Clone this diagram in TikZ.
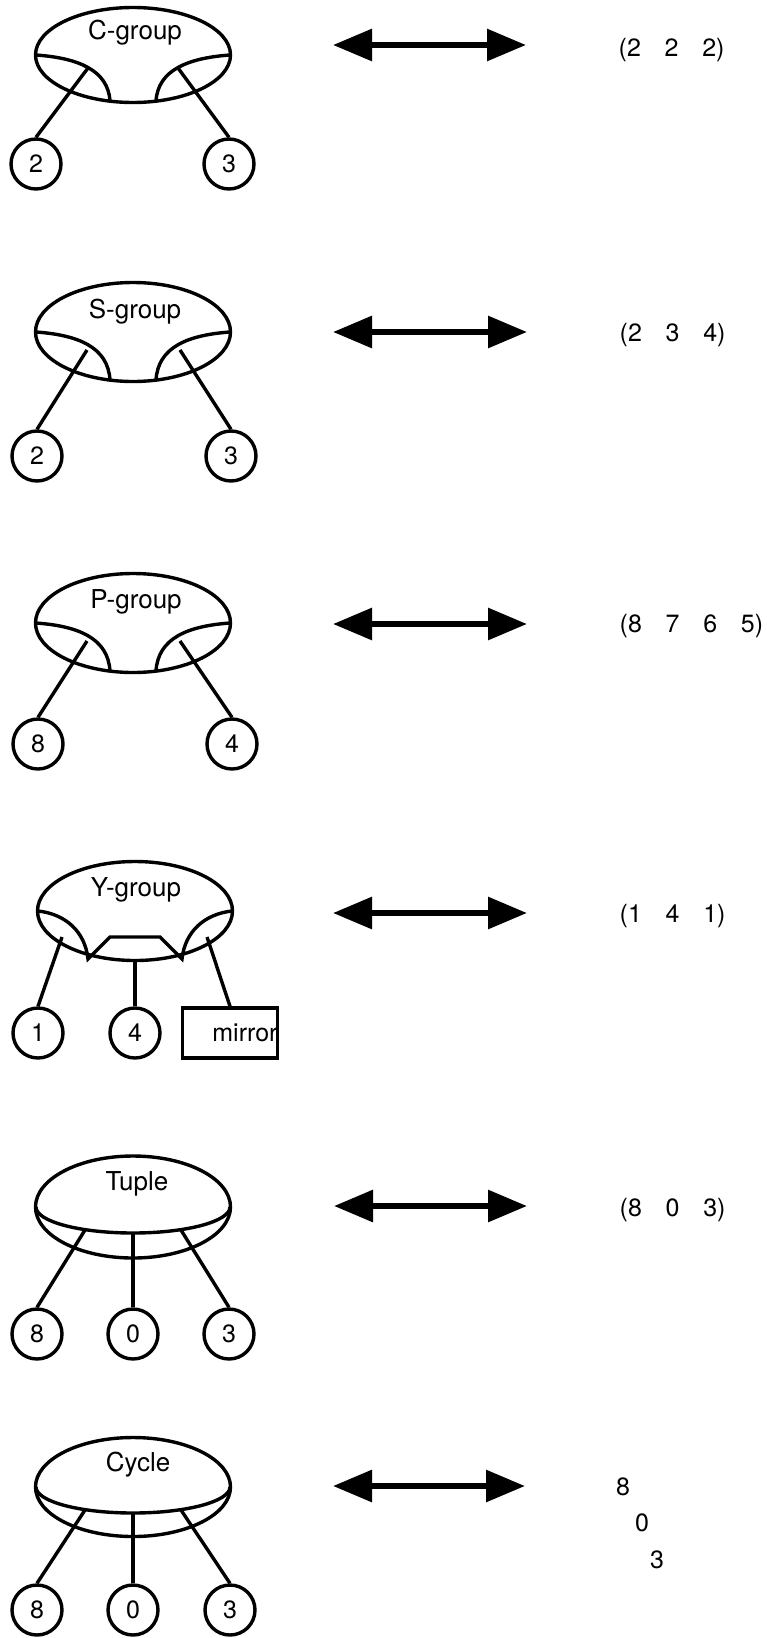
\documentclass[tikz,border=0pt]{standalone}
\usepackage{fontspec}
\setmainfont{TeX Gyre Heros}
\usepackage{tikz}
\usetikzlibrary{shapes.geometric,arrows.meta}

\newcommand{\tsep}{\hspace{0.95em}}

\begin{document}
\begin{tikzpicture}[x=1pt,y=-1pt,line width=3.4pt,
                    >={Triangle[length=39pt,width=31pt]},
                    group node/.style={ellipse,draw,minimum width=195pt,minimum height=99pt,inner sep=0pt},
                    leaf node/.style={circle,draw,minimum size=50pt,inner sep=0pt,font=\fontsize{25}{30}\selectfont},
                    box node/.style={rectangle,draw,minimum height=50pt,inner xsep=0pt,text width=95pt,align=right,font=\fontsize{25}{30}\selectfont},
                    grp label/.style={inner sep=0pt,font=\fontsize{26}{30}\selectfont},
                    seq text/.style={inner sep=0pt,anchor=west,font=\fontsize{25}{30}\selectfont},
                    double arrow/.style={<->,line width=6pt}]
  \useasboundingbox (0,0) rectangle (766,1638);

  % C-group
  \begin{scope}[shift={(133,55)}]
    \node[group node,minimum height=95pt] (cg) at (0,0) {};
    \node[grp label] (cgt) at (2,-22) {C-group};
    \draw (-97,0) .. controls (-55,3) and (-25,15) .. (-23,46);
    \draw (97,0) .. controls (55,3) and (25,15) .. (23,46);
    \coordinate (cgl) at (-45,13);
    \coordinate (cgr) at (45,13);
    \node[leaf node] (c2) at (-97,109) {2};
    \node[leaf node] (c3) at (96,109) {3};
  \end{scope}
  \path (c2.north) edge (cgl)
        (c3.north) edge (cgr);

  % S-group
  \begin{scope}[shift={(133,332)}]
    \node[group node] (sg) at (0,0) {};
    \node[grp label] (sgt) at (2,-20) {S-group};
    \draw (-97,0) .. controls (-55,3) and (-25,15) .. (-23,48);
    \draw (97,0) .. controls (55,3) and (25,15) .. (23,48);
    \coordinate (sgl) at (-46,18);
    \coordinate (sgr) at (47,18);
    \node[leaf node] (s2) at (-96,124) {2};
    \node[leaf node] (s3) at (98,124) {3};
  \end{scope}
  \path (s2.north) edge (sgl)
        (s3.north) edge (sgr);

  % P-group
  \begin{scope}[shift={(133,623)}]
    \node[group node] (pg) at (0,0) {};
    \node[grp label] (pgt) at (3,-21) {P-group};
    \draw (-97,0) .. controls (-55,3) and (-25,15) .. (-23,48);
    \draw (97,0) .. controls (55,3) and (25,15) .. (23,48);
    \coordinate (pgl) at (-46,18);
    \coordinate (pgr) at (47,18);
    \node[leaf node] (p8) at (-95,121) {8};
    \node[leaf node] (p4) at (99,121) {4};
  \end{scope}
  \path (p8.north) edge (pgl)
        (p4.north) edge (pgr);

  % Y-group
  \begin{scope}[shift={(135,911)}]
    \node[group node] (yg) at (0,0) {};
    \node[grp label] (ygt) at (1,-21) {Y-group};
    \draw (-97,0) .. controls (-70,3) and (-50,20) .. (-47,48) -- (-25,26)
          -- (25,26) -- (47,48) .. controls (50,20) and (70,3) .. (97,0);
    \coordinate (ygl) at (-73,26);
    \coordinate (ygr) at (72,26);
    \node[leaf node] (y1) at (-97,122) {1};
    \node[leaf node] (y4) at (0,122) {4};
    \node[box node] (ym) at (95,122) {mirror};
  \end{scope}
  \path (y1.north) edge (ygl)
        (y4.north) edge (yg.south)
        (ym.north) edge (ygr);

  % Tuple
  \begin{scope}[shift={(133,1207)}]
    \node[group node,minimum height=102pt] (tg) at (0,0) {};
    \node[grp label] (tgt) at (4,-23) {Tuple};
    \draw (-97,0) .. controls (-97,14.4) and (-53.6,26) .. (0,26)
          .. controls (53.6,26) and (97,14.4) .. (97,0);
    \coordinate (tgl) at (-48,23);
    \coordinate (tgm) at (0,26);
    \coordinate (tgr) at (48,23);
    \node[leaf node] (t8) at (-96,127) {8};
    \node[leaf node] (t0) at (0,127) {0};
    \node[leaf node] (t3) at (96,127) {3};
  \end{scope}
  \path (t8.north) edge (tgl)
        (t0.north) edge (tgm)
        (t3.north) edge (tgr);

  % Cycle
  \begin{scope}[shift={(133,1487)}]
    \node[group node] (yc) at (0,0) {};
    \node[grp label] (yct) at (5,-22) {Cycle};
    \draw (-97,0) .. controls (-97,14.4) and (-53.6,26) .. (0,26)
          .. controls (53.6,26) and (97,14.4) .. (97,0);
    \coordinate (ycl) at (-48,23);
    \coordinate (ycm) at (0,26);
    \coordinate (ycr) at (48,23);
    \node[leaf node] (k8) at (-96,123) {8};
    \node[leaf node] (k0) at (0,123) {0};
    \node[leaf node] (k3) at (97,123) {3};
  \end{scope}
  \path (k8.north) edge (ycl)
        (k0.north) edge (ycm)
        (k3.north) edge (ycr);

  % arrows
  \coordinate (a1l) at (333,45);   \coordinate (a1r) at (526,45);
  \coordinate (a2l) at (333,332);  \coordinate (a2r) at (527,332);
  \coordinate (a3l) at (333,624);  \coordinate (a3r) at (527,624);
  \coordinate (a4l) at (333,913);  \coordinate (a4r) at (527,913);
  \coordinate (a5l) at (334,1206); \coordinate (a5r) at (527,1206);
  \coordinate (a6l) at (333,1486); \coordinate (a6r) at (525,1486);
  \path[double arrow] (a1l) edge (a1r)
                      (a2l) edge (a2r)
                      (a3l) edge (a3r)
                      (a4l) edge (a4r)
                      (a5l) edge (a5r)
                      (a6l) edge (a6r);

  % sequences
  \node[seq text] (q1) at (617,50) {(2\tsep2\tsep2)};
  \node[seq text] (q2) at (618,335) {(2\tsep3\tsep4)};
  \node[seq text] (q3) at (618,626) {(8\tsep7\tsep6\tsep5)};
  \node[seq text] (q4) at (618,916) {(1\tsep4\tsep1)};
  \node[seq text] (q5) at (618,1210) {(8\tsep0\tsep3)};
  \node[font=\fontsize{25}{30}\selectfont] (r8) at (623,1487) {8};
  \node[font=\fontsize{25}{30}\selectfont] (r0) at (642,1523) {0};
  \node[font=\fontsize{25}{30}\selectfont] (r3) at (657,1560) {3};
\end{tikzpicture}
\end{document}
